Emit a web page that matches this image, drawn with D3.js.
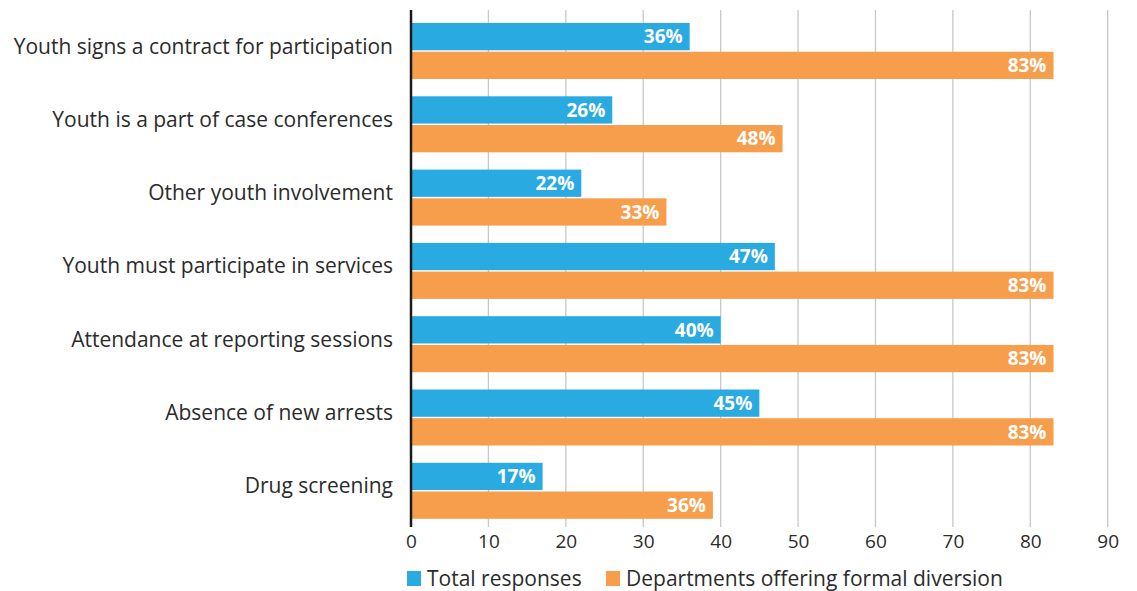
<!DOCTYPE html>
<html>
<head>
<meta charset="utf-8">
<script src="https://cdn.jsdelivr.net/npm/d3@7"></script>
<style>
  body { margin: 0; background: #fff; }
  svg text { font-family: "Open Sans", Lato, sans-serif; }
</style>
</head>
<body>
<svg width="1137" height="591"></svg>
<script>
// data
const categories = [
  "Youth signs a contract for participation",
  "Youth is a part of case conferences",
  "Other youth involvement",
  "Youth must participate in services",
  "Attendance at reporting sessions",
  "Absence of new arrests",
  "Drug screening"
];
const seriesNames = ["Total responses", "Departments offering formal diversion"];
const totalResponses = [36, 26, 22, 47, 40, 45, 17];
const formalDiversion = [83, 48, 33, 83, 83, 83, 39];
// printed labels (last orange bar is labelled 36% in the source)
const totalLabels = ["36%", "26%", "22%", "47%", "40%", "45%", "17%"];
const diversionLabels = ["83%", "48%", "33%", "83%", "83%", "83%", "36%"];
const xTicks = [0, 10, 20, 30, 40, 50, 60, 70, 80, 90];
const colors = ["#29aae1", "#f79e4c"];

let svg = d3.select("svg");

let x = d3.scaleLinear().domain([0, 90]).range([411, 1107.7]);

let y = d3.scaleBand()
	.domain(categories)
	.range([14.35, 527.45])
	.paddingInner(0.236)
	.paddingOuter(0.118);

let ySub = d3.scaleBand()
	.domain([0, 1])
	.range([0, y.bandwidth()])
	.paddingInner(0.05);

// gridlines
svg.append("g")
	.selectAll("line")
	.data(xTicks.slice(1))
	.enter().append("line")
	.attr("x1", d => x(d)).attr("x2", d => x(d))
	.attr("y1", 10).attr("y2", 527)
	.attr("stroke", "#c8c8c8")
	.attr("stroke-width", 1.3);

// build rows
let rows = categories.map((c, i) => ({
	cat: c,
	bars: [
		{ s: 0, v: totalResponses[i], label: totalLabels[i] },
		{ s: 1, v: formalDiversion[i], label: diversionLabels[i] }
	]
}));

let group = svg.append("g")
	.selectAll("g")
	.data(rows)
	.enter().append("g")
	.attr("transform", d => "translate(0," + y(d.cat) + ")");

group.selectAll("rect")
	.data(d => d.bars)
	.enter().append("rect")
	.attr("x", x(0))
	.attr("y", d => ySub(d.s))
	.attr("width", d => x(d.v) - x(0))
	.attr("height", ySub.bandwidth())
	.attr("fill", d => colors[d.s]);

group.selectAll("text.val")
	.data(d => d.bars)
	.enter().append("text")
	.attr("class", "val")
	.attr("x", d => x(d.v) - 7)
	.attr("y", d => ySub(d.s) + ySub.bandwidth() / 2)
	.attr("dy", "0.36em")
	.attr("text-anchor", "end")
	.attr("fill", "#fff")
	.style("font-weight", "bold")
	.style("font-size", "19px")
	.text(d => d.label);

// category labels
svg.append("g")
	.selectAll("text")
	.data(categories)
	.enter().append("text")
	.attr("x", 393)
	.attr("y", d => y(d) + y.bandwidth() / 2)
	.attr("dy", "0.12em")
	.attr("text-anchor", "end")
	.attr("fill", "#2b2b2b")
	.style("font-size", "21px")
	.text(d => d);

// x axis labels
let xAxis = svg.append("g")
	.attr("transform", "translate(0,527)")
	.call(d3.axisBottom(x).tickValues(xTicks).tickSize(0).tickPadding(8));
xAxis.select(".domain").remove();
xAxis.selectAll("text")
	.attr("fill", "#2b2b2b")
	.style("font-size", "19px")
	.style("font-family", "\"Open Sans\", Lato, sans-serif");

// y axis line
svg.append("line")
	.attr("x1", x(0)).attr("x2", x(0))
	.attr("y1", 10).attr("y2", 527)
	.attr("stroke", "#1a1a1a")
	.attr("stroke-width", 2.5);

// legend
let legend = svg.append("g").attr("transform", "translate(407,571)");
let legX = [0, 199];
let item = legend.selectAll("g")
	.data(seriesNames)
	.enter().append("g")
	.attr("transform", (d, i) => "translate(" + legX[i] + ",0)");
item.append("rect")
	.attr("width", 14).attr("height", 15)
	.attr("fill", (d, i) => colors[i]);
item.append("text")
	.attr("x", 20)
	.attr("y", 7.5)
	.attr("dy", "0.35em")
	.attr("fill", "#2b2b2b")
	.style("font-size", "21px")
	.text(d => d);
</script>
</body>
</html>
